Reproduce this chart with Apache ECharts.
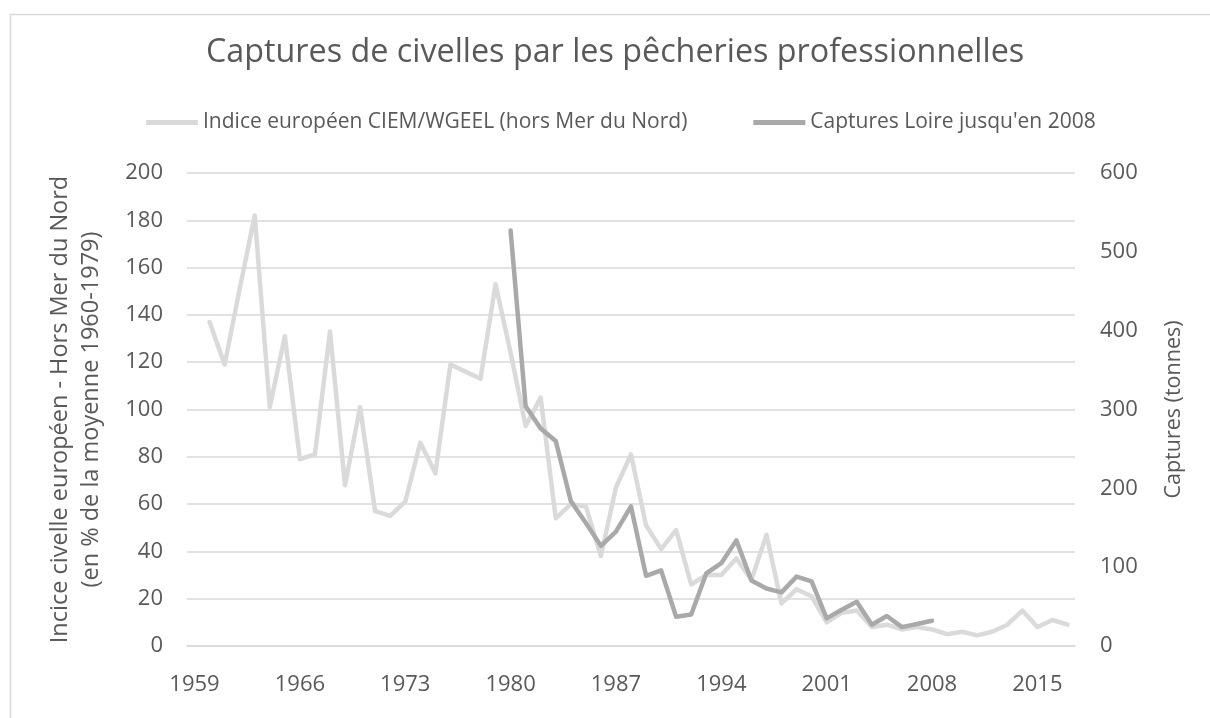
<!DOCTYPE html>
<html>
<head>
<meta charset="utf-8">
<script src="https://cdn.jsdelivr.net/npm/echarts@6/dist/echarts.min.js"></script>
<style>
html,body{margin:0;padding:0;background:#fff;}
#chart{width:1210px;height:718px;}
</style>
</head>
<body>
<div id="chart"></div>
<script>
const years = ['1959','1960','1961','1962','1963','1964','1965','1966','1967','1968','1969',
'1970','1971','1972','1973','1974','1975','1976','1977','1978','1979',
'1980','1981','1982','1983','1984','1985','1986','1987','1988','1989',
'1990','1991','1992','1993','1994','1995','1996','1997','1998','1999',
'2000','2001','2002','2003','2004','2005','2006','2007','2008','2009',
'2010','2011','2012','2013','2014','2015','2016','2017'];

const indiceEuropeen = [null,137,119,151,182,101,131,79,81,133,68,
101,57,55,61,86,73,119,116,113,153,
124,93,105,54,60,59,38,67,81,51,
41,49,26,30,30,37,28,47,18,24,
21,10,14,15,8,9,7,8,7,5,
6,4.5,6,9,15,8,11,9];

const capturesLoire = [null,null,null,null,null,null,null,null,null,null,null,
null,null,null,null,null,null,null,null,null,null,
527,304,276,260,184,156,127,145,177,89,
96,37,40,92,105,134,83,73,68,88,
82,35,46,56,27,38,24,28,32,null,
null,null,null,null,null,null,null,null];

const titleText = 'Captures de civelles par les pêcheries professionnelles';
const seriesNames = ['Indice européen CIEM/WGEEL (hors Mer du Nord)', "Captures Loire jusqu'en 2008"];
const leftAxisName = 'Incice civelle européen - Hors Mer du Nord\n(en % de la moyenne 1960-1979)';
const rightAxisName = 'Captures (tonnes)';

const FONT = 'Open Sans';
const TXT = '#595959';
const chart = echarts.init(document.getElementById('chart'));
chart.setOption({
  animation: false,
  backgroundColor: '#fff',
  textStyle: {fontFamily: FONT, color: TXT},
  graphic: [{
    type: 'rect', left: 8, top: 12,
    shape: {width: 1260, height: 760},
    style: {fill: 'none', stroke: '#d9d9d9', lineWidth: 1.5},
    silent: true
  }],
  title: {
    text: titleText, left: 206, top: 37, padding: 0,
    textStyle: {fontFamily: FONT, fontSize: 32.3, fontWeight: 'normal', color: TXT}
  },
  legend: {
    left: 141, top: 107,
    itemWidth: 52, itemHeight: 5, itemGap: 66,
    icon: 'rect',
    textStyle: {fontFamily: FONT, fontSize: 21, color: TXT},
    data: seriesNames
  },
  grid: {left: 187, right: 135, top: 173, bottom: 72, containLabel: false},
  xAxis: {
    type: 'category', data: years, boundaryGap: true,
    axisLine: {show: true, lineStyle: {color: '#d9d9d9', width: 1.5}},
    axisTick: {show: false},
    axisLabel: {interval: 6, margin: 28, fontFamily: FONT, fontSize: 22, color: TXT},
    splitLine: {show: false}
  },
  yAxis: [{
    type: 'value', min: 0, max: 200, interval: 20,
    name: leftAxisName, nameLocation: 'middle', nameRotate: 90, nameGap: 80,
    nameTextStyle: {fontFamily: FONT, fontSize: 23.5, color: TXT, lineHeight: 31, align: 'center'},
    axisLine: {show: false}, axisTick: {show: false},
    axisLabel: {margin: 24, fontFamily: FONT, fontSize: 22, color: TXT},
    splitLine: {lineStyle: {color: '#d9d9d9', width: 1.5}}
  }, {
    type: 'value', min: 0, max: 600, interval: 100,
    name: rightAxisName, nameLocation: 'middle', nameRotate: 90, nameGap: 88,
    nameTextStyle: {fontFamily: FONT, fontSize: 21.5, color: TXT},
    axisLine: {show: false}, axisTick: {show: false},
    axisLabel: {margin: 25, fontFamily: FONT, fontSize: 22, color: TXT},
    splitLine: {show: false}
  }],
  series: [{
    name: seriesNames[0], type: 'line', data: indiceEuropeen, yAxisIndex: 0,
    showSymbol: false, symbol: 'none', connectNulls: false,
    itemStyle: {color: '#dadada'},
    lineStyle: {color: '#dadada', width: 4.5, join: 'round', cap: 'round'},
    z: 2
  }, {
    name: seriesNames[1], type: 'line', data: capturesLoire, yAxisIndex: 1,
    showSymbol: false, symbol: 'none', connectNulls: false,
    itemStyle: {color: '#a9a9a9'},
    lineStyle: {color: '#a9a9a9', width: 4.5, join: 'round', cap: 'round'},
    z: 3
  }]
});
</script>
</body>
</html>
